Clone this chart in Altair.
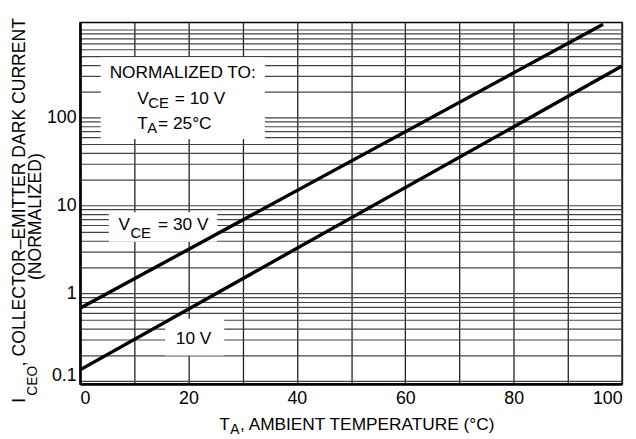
import altair as alt
import pandas as pd

FONT = "Liberation Sans, Arial, sans-serif"

# ---- data ----
temp_10v = [0, 100]
iceo_10v = [0.135, 387]
temp_30v = [0, 96.5]
iceo_30v = [0.678, 1156]

x_grid_values = [0, 10, 20, 30, 40, 50, 60, 70, 80, 90, 100]
y_grid_values = [0.1, 0.2, 0.3, 0.4, 0.5, 0.6, 0.7, 0.8, 0.9,
                 1, 2, 3, 4, 5, 6, 7, 8, 9,
                 10, 20, 30, 40, 50, 60, 70, 80, 90,
                 100, 200, 300, 400, 500, 600, 700, 800, 900, 1000]
y_label_values = [0.1, 1, 10, 100]

# annotation boxes (data units)
box_x0 = [3.8, 5.3, 15.7]
box_x1 = [34.1, 25.3, 26.6]
box_y0 = [57, 3.87, 0.197]
box_y1 = [488, 8.4, 0.514]

lines_df = pd.DataFrame({
    "T": temp_10v + temp_30v,
    "I": iceo_10v + iceo_30v,
    "s": ["10 V"] * len(temp_10v) + ["30 V"] * len(temp_30v),
})
boxes_df = pd.DataFrame({"x0": box_x0, "x1": box_x1, "y0": box_y0, "y1": box_y1})

x_scale = alt.Scale(domain=[0, 100], nice=False, zero=False)
y_scale = alt.Scale(type="log", domain=[0.0933, 1208], nice=False)

x_axis = alt.Axis(
    values=x_grid_values, title=None, ticks=False, grid=True,
    labelExpr="datum.value % 20 == 0 ? datum.label : ''",
    labelFlush=True, labelPadding=6, labelFontSize=18, labelFont=FONT,
    labelColor="#000", domainColor="#000", domainWidth=2.5,
    gridColor="#222", gridWidth=1.3,
)
y_axis = alt.Axis(
    values=y_grid_values, title=None, ticks=False, grid=True, format="~g",
    labelExpr="indexof([0.1, 1, 10, 100], datum.value) >= 0 ? datum.label : ''",
    labelOffset={"condition": {"test": "datum.value < 0.15", "value": -6}, "value": 0},
    labelPadding=4, labelFontSize=18, labelFont=FONT,
    labelColor="#000", domainColor="#000", domainWidth=2.5,
    gridColor="#444", gridWidth=1.2,
)

X = alt.X("T:Q", scale=x_scale, axis=x_axis)
Y = alt.Y("I:Q", scale=y_scale, axis=y_axis)

boxes = alt.Chart(boxes_df).mark_rect(color="white").encode(
    x=alt.X("x0:Q", scale=x_scale, axis=x_axis),
    x2="x1:Q",
    y=alt.Y("y0:Q", scale=y_scale, axis=y_axis),
    y2="y1:Q",
)

lines = alt.Chart(lines_df).mark_line(color="black", strokeWidth=3.4, clip=True).encode(
    x=X, y=Y, detail="s:N"
)

MAIN = 17.5
SUB = 15


def data_text(text, x, y, size=MAIN, align="left"):
    df = pd.DataFrame({"t": [text], "x": [x], "y": [y]})
    return alt.Chart(df).mark_text(
        font=FONT, fontSize=size, align=align, baseline="alphabetic", color="black"
    ).encode(
        x=alt.X("x:Q", scale=x_scale, axis=x_axis),
        y=alt.Y("y:Q", scale=y_scale, axis=y_axis),
        text="t:N",
    )


def px_text(text, px, py, size=MAIN, align="left", angle=0):
    df = pd.DataFrame({"t": [text]})
    return alt.Chart(df).mark_text(
        font=FONT, fontSize=size, align=align, baseline="alphabetic",
        angle=angle, color="black"
    ).encode(x=alt.value(px), y=alt.value(py), text="t:N")


annotations = [
    data_text("NORMALIZED TO:", 18.94, 280, align="center"),
    data_text("V", 10.56, 144.8),
    data_text("CE", 12.57, 127.2, size=SUB),
    data_text("= 10 V", 17.49, 144.8),
    data_text("T", 10.56, 73.9),
    data_text("A", 12.39, 66.6, size=SUB),
    data_text("= 25°C", 14.39, 73.9),
    data_text("V", 7.10, 5.28),
    data_text("CE", 9.29, 4.29, size=SUB),
    data_text("= 30 V", 14.39, 5.28),
    data_text("10 V", 17.67, 0.269),
]

titles = [
    px_text("I", -56, 385, size=17.8, angle=270),
    px_text("CEO", -44, 378, size=14, angle=270),
    px_text(", COLLECTOR–EMITTER DARK CURRENT", -56, 348, size=17.8, angle=270),
    px_text("(NORMALIZED)", -40, 196.5, size=17.8, align="center", angle=270),
    px_text("T", 141, 413),
    px_text("A", 152, 417, size=14),
    px_text(", AMBIENT TEMPERATURE (°C)", 162, 413),
]

chart = alt.layer(boxes, lines, *annotations, *titles).properties(
    width=549, height=366,
    autosize=alt.AutoSizeParams(type="none"),
    padding={"left": 73, "top": 12, "right": 6, "bottom": 53},
    background="white",
).configure_view(stroke="#000", strokeWidth=1.5)

chart.save("out.html", embed_options={"renderer": "svg", "actions": False})
